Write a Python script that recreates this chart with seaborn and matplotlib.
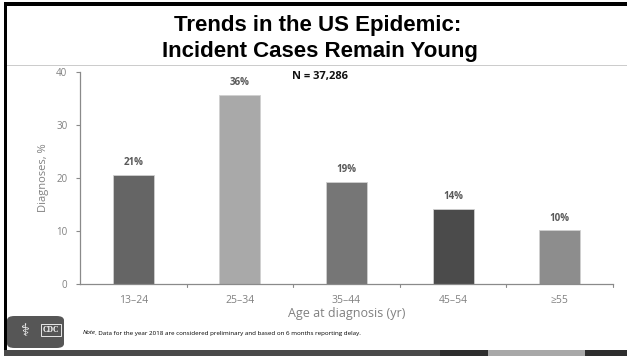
import matplotlib
matplotlib.use("Agg")
import matplotlib.pyplot as plt
import seaborn as sns
import pandas as pd
from matplotlib.patches import FancyBboxPatch, Rectangle

categories = ["13\u201324", "25\u201334", "35\u201344", "45\u201354", "\u226555"]
values = [20.6, 35.7, 19.2, 14.1, 10.1]
bar_colors = ["#656565", "#a9a9a9", "#767676", "#4b4b4b", "#8d8d8d"]
yticks = [0, 10, 20, 30, 40]

sns.set_theme(style="white")
plt.rcParams["font.family"] = ["Open Sans", "DejaVu Sans"]

df = pd.DataFrame({"age": categories, "pct": values})

fig = plt.figure(figsize=(6.27, 3.56), dpi=100)
ax = fig.add_axes([80 / 627, 1 - 284 / 356, 533 / 627, 212 / 356])

sns.barplot(data=df, x="age", y="pct", hue="age", palette=bar_colors,
            legend=False, width=0.385, saturation=1, ax=ax,
            edgecolor="#d0d0d0", linewidth=0.6)

ax.set_xlim(-0.5, 4.5)
ax.set_ylim(0, 40)
ax.set_yticks(yticks)
ax.set_yticklabels([str(t) for t in yticks], color="#808080", fontsize=7)
ax.set_xticks(range(len(categories)))
ax.set_xticklabels(categories, color="#808080", fontsize=7.5)
ax.tick_params(axis="x", length=0, pad=8)
ax.tick_params(axis="y", length=3, width=0.8, color="#8a8a8a", pad=6, left=True)
for b in [0.5, 1.5, 2.5, 3.5, 4.5]:
    ax.plot([b, b], [0, -0.6], color="#8a8a8a", lw=0.8, clip_on=False)

ax.set_xlabel("Age at diagnosis (yr)", color="#808080", fontsize=9, labelpad=1)
ax.set_ylabel("Diagnoses, %", color="#808080", fontsize=8, labelpad=5)

for s in ["top", "right"]:
    ax.spines[s].set_visible(False)
for s in ["left", "bottom"]:
    ax.spines[s].set_color("#8a8a8a")
    ax.spines[s].set_linewidth(0.9)

for i, v in enumerate(values):
    ax.text(i, v + 1.3, f"{round(v)}%", ha="center", va="bottom",
            fontsize=7, fontweight="bold", color="#595959")

fig.text(320 / 627, 1 - 77 / 356, "N = 37,286", ha="center", va="center",
         fontsize=8, fontweight="bold", color="#111111")

# Title
fig.text(318 / 627, 1 - 31 / 356, "Trends in the US Epidemic:", ha="center",
         va="baseline", fontsize=16, fontweight="bold",
         family=["Liberation Sans", "DejaVu Sans"], color="black")
fig.text(320 / 627, 1 - 57 / 356, "Incident Cases Remain Young", ha="center",
         va="baseline", fontsize=16, fontweight="bold",
         family=["Liberation Sans", "DejaVu Sans"], color="black")

# Decorations: borders and rules
fig.add_artist(Rectangle((4 / 627, 1 - 6 / 356), 623 / 627, 4 / 356,
                         transform=fig.transFigure, color="black", lw=0))
fig.add_artist(Rectangle((4 / 627, 6 / 356), 3 / 627, 345 / 356,
                         transform=fig.transFigure, color="black", lw=0))
fig.add_artist(Rectangle((7 / 627, 1 - 66 / 356), 620 / 627, 1 / 356,
                         transform=fig.transFigure, color="#cccccc", lw=0))
# bottom strip
for x0, x1, c in [(4, 440, "#4a4a4a"), (440, 488, "#2e2e2e"),
                  (488, 585, "#a8a8a8"), (585, 627, "#2e2e2e")]:
    fig.add_artist(Rectangle((x0 / 627, 0), (x1 - x0) / 627, 6 / 356,
                             transform=fig.transFigure, color=c, lw=0))

# CDC logo box
fig.add_artist(FancyBboxPatch((7 / 627, 8 / 356), 57 / 627, 32 / 356,
                              boxstyle="round,pad=0,rounding_size=0.012",
                              transform=fig.transFigure, color="#565656", lw=0))
fig.text(25 / 627, 1 - 331 / 356, "\u2695", ha="center", va="center",
         fontsize=12, color="white", family=["DejaVu Sans"])
fig.text(51 / 627, 1 - 330 / 356, "CDC", ha="center", va="center",
         fontsize=5.5, fontweight="bold", color="white",
         family=["Liberation Serif", "DejaVu Serif"],
         bbox=dict(boxstyle="square,pad=0.25", fc="#565656", ec="white", lw=0.6))

fig.text(83 / 627, 1 - 333 / 356, "Note", ha="left", va="center",
         fontsize=4.5, style="italic", color="black")
fig.text(95 / 627, 1 - 333 / 356,
         ". Data for the year 2018 are considered preliminary and based on 6 months reporting delay.",
         ha="left", va="center", fontsize=4.5, color="black")

fig.savefig("out.png", dpi=100, facecolor="white")
